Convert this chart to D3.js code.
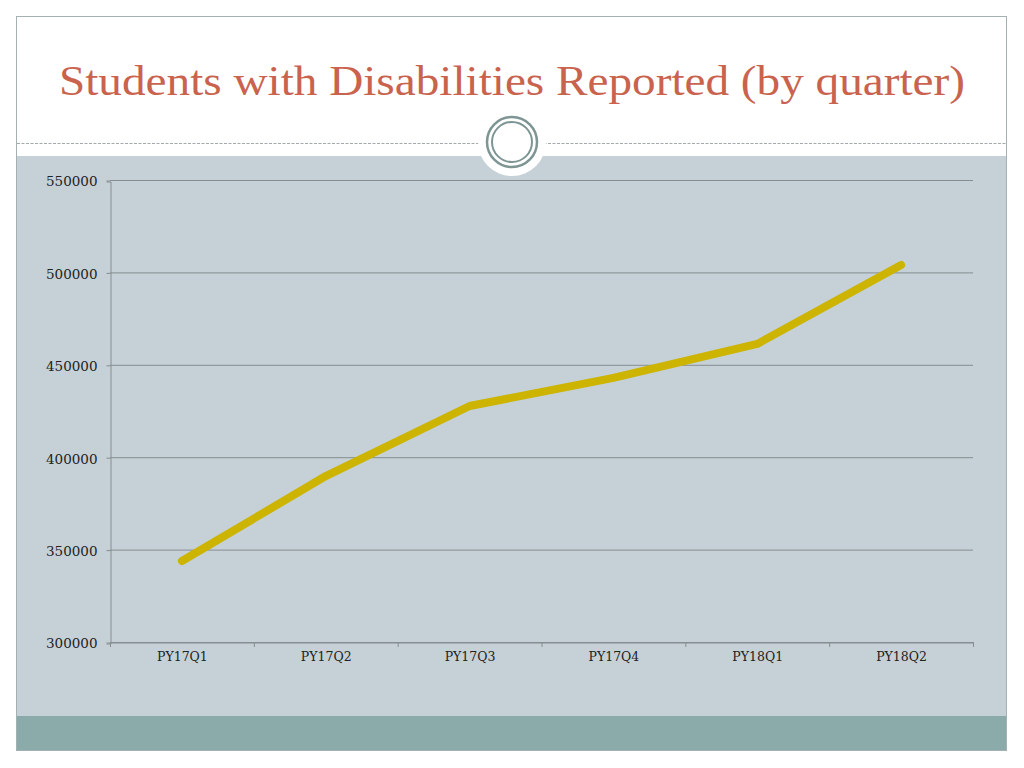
<!DOCTYPE html>
<html>
<head>
<meta charset="utf-8">
<script src="https://cdn.jsdelivr.net/npm/d3@7"></script>
<style>
  body { margin: 0; background: #fff; }
  svg { display: block; }
  .tick text { font-family: "DejaVu Serif", "Liberation Serif", serif; }
</style>
</head>
<body>
<div id="chart"></div>
<script>
(function() {
    const quarters = ['PY17Q1', 'PY17Q2', 'PY17Q3', 'PY17Q4', 'PY18Q1', 'PY18Q2'];
    const students = [343800, 389800, 427700, 442900, 461300, 504000];
    const yTicks = [300000, 350000, 400000, 450000, 500000, 550000];

    const width = 1024,
          height = 768;

    const svg = d3.select('#chart')
        .append('svg')
        .attr('width', width)
        .attr('height', height);

    // slide frame
    svg.append('rect')
        .attr('x', 16.5).attr('y', 16.5)
        .attr('width', 990).attr('height', 734)
        .attr('fill', '#fff');

    svg.append('rect')
        .attr('x', 16.5).attr('y', 156)
        .attr('width', 990).attr('height', 560)
        .attr('fill', '#c5d1d6');

    svg.append('rect')
        .attr('x', 16.5).attr('y', 716)
        .attr('width', 990).attr('height', 34.5)
        .attr('fill', '#8aabaa');

    svg.append('rect')
        .attr('x', 16.5).attr('y', 16.5)
        .attr('width', 990).attr('height', 734)
        .attr('fill', 'none')
        .attr('stroke', '#a3b1b3');

    // dashed divider with circle ornament
    svg.append('line')
        .attr('x1', 17).attr('x2', 1006)
        .attr('y1', 143.5).attr('y2', 143.5)
        .attr('stroke', '#a4aaac')
        .attr('stroke-dasharray', '3,1.5');

    svg.append('circle')
        .attr('cx', 512).attr('cy', 142).attr('r', 34)
        .attr('fill', '#fff');
    svg.append('circle')
        .attr('cx', 512).attr('cy', 142).attr('r', 25)
        .attr('fill', '#fff')
        .attr('stroke', '#7d9593').attr('stroke-width', 2.5);
    svg.append('circle')
        .attr('cx', 512).attr('cy', 142).attr('r', 20)
        .attr('fill', 'none')
        .attr('stroke', '#7d9593').attr('stroke-width', 2);

    svg.append('text')
        .attr('x', 512).attr('y', 95)
        .attr('text-anchor', 'middle')
        .attr('font-family', '"Liberation Serif", serif')
        .attr('font-size', 42)
        .attr('fill', '#c9634e')
        .attr('textLength', 906)
        .attr('lengthAdjust', 'spacingAndGlyphs')
        .text('Students with Disabilities Reported (by quarter)');

    // chart
    const left = 110, right = 973, top = 180, bottom = 642;

    const xScale = d3.scaleBand()
        .domain(quarters)
        .range([left, right]);

    const yScale = d3.scaleLinear()
        .domain([300000, 550000])
        .range([bottom, top]);

    svg.append('g')
        .selectAll('line')
        .data(yTicks)
        .enter().append('line')
        .attr('x1', left).attr('x2', right)
        .attr('y1', d => yScale(d) + 0.5).attr('y2', d => yScale(d) + 0.5)
        .attr('stroke', '#868e92');

    const yAxis = svg.append('g')
        .attr('transform', `translate(${left + 0.5}, 1.5)`)
        .call(d3.axisLeft(yScale).tickValues(yTicks).tickSize(4).tickPadding(9).tickFormat(d => d));
    yAxis.select('.domain').attr('stroke', '#868e92');
    yAxis.selectAll('.tick line').attr('stroke', '#868e92').attr('transform', 'translate(0,-1)');
    yAxis.selectAll('.tick text').attr('font-size', 13.5).attr('fill', '#222');

    const xAxis = svg.append('g')
        .attr('transform', `translate(0.5, ${bottom + 0.5})`)
        .call(d3.axisBottom(xScale).tickSize(0).tickPadding(10));
    xAxis.select('.domain').attr('stroke', '#868e92');
    xAxis.selectAll('.tick text').attr('font-size', 12.5).attr('fill', '#222');

    // category boundary ticks
    svg.append('g')
        .selectAll('line')
        .data(quarters.concat(['end']))
        .enter().append('line')
        .attr('x1', (d, i) => left + i * xScale.step() + 0.5)
        .attr('x2', (d, i) => left + i * xScale.step() + 0.5)
        .attr('y1', bottom).attr('y2', bottom + 5)
        .attr('stroke', '#868e92');

    const line = d3.line()
        .x((d, i) => xScale(quarters[i]) + xScale.bandwidth() / 2)
        .y(d => yScale(d));

    svg.append('path')
        .datum(students)
        .attr('d', line)
        .attr('fill', 'none')
        .attr('stroke', '#ccb400')
        .attr('stroke-width', 8)
        .attr('stroke-linecap', 'round')
        .attr('stroke-linejoin', 'round');
})();
</script>
</body>
</html>
